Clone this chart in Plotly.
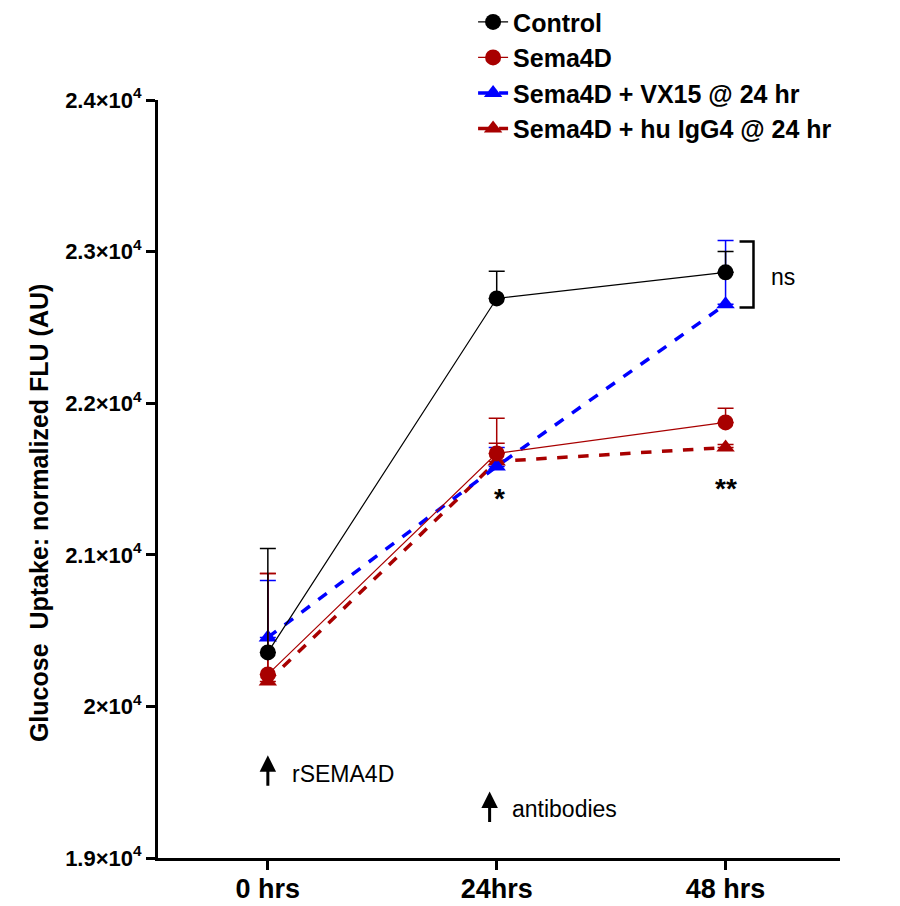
import plotly.graph_objects as go

categories = ["0 hrs", "24hrs", "48 hrs"]
control = [20356, 22691, 22863]
control_err = [686, 180, 138]
sema4d = [20211, 21669, 21873]
sema4d_err = [666, 231, 93]
vx15 = [20455, 21583, 22652]
vx15_err = [376, 125, 422]
igg4 = [20165, 21616, 21708]
igg4_err = [712, 119, 20]

ytick_vals = [19000, 20000, 21000, 22000, 23000, 24000]
ytick_text = ["1.9×10<sup>4</sup>", "2×10<sup>4</sup>", "2.1×10<sup>4</sup>",
              "2.2×10<sup>4</sup>", "2.3×10<sup>4</sup>", "2.4×10<sup>4</sup>"]

DARKRED = "#A80000"
BLUE = "#0000FF"
FONT = "Liberation Sans, Arial, sans-serif"

fig = go.Figure()

def add(name, y, err, color, symbol, dash, width):
    fig.add_trace(go.Scatter(
        x=categories, y=y, name=name, mode="lines+markers",
        line=dict(color=color, width=width, dash=dash),
        marker=dict(symbol=symbol, size=16, color=color),
        error_y=dict(type="data", array=err, arrayminus=[0] * len(err),
                     symmetric=False, color=color, thickness=1.5, width=8),
    ))

add("Sema4D + hu IgG4 @ 24 hr", igg4, igg4_err, DARKRED, "triangle-up", "dash", 3.5)
add("Sema4D + VX15 @ 24 hr", vx15, vx15_err, BLUE, "triangle-up", "dash", 3.5)
add("Sema4D", sema4d, sema4d_err, DARKRED, "circle", "solid", 1.2)
add("Control", control, control_err, "black", "circle", "solid", 1.2)

# bracket "ns"
fig.add_shape(type="path", xref="x", yref="y",
              path="M 2.061 23067 L 2.122 23067 L 2.122 22632 L 2.061 22632",
              line=dict(color="black", width=2.5))

annotations = [
    dict(x=2.19, y=22830, text="ns", showarrow=False, xanchor="left",
         font=dict(size=23, color="black")),
    dict(x=1.013, y=21370, text="<b>*</b>", showarrow=False,
         font=dict(size=28, color="black")),
    dict(x=2.004, y=21440, text="<b>**</b>", showarrow=False,
         font=dict(size=28, color="black")),
    # arrows
    dict(x=0, y=19677, ax=0, ay=32, text="", showarrow=True, arrowhead=2,
         arrowsize=1.1, arrowwidth=3, arrowcolor="black"),
    dict(x=0.095, y=19551, text="rSEMA4D", showarrow=False, xanchor="left",
         font=dict(size=23, color="black")),
    dict(x=0.969, y=19439, ax=0, ay=32, text="", showarrow=True, arrowhead=2,
         arrowsize=1.1, arrowwidth=3, arrowcolor="black"),
    dict(x=1.06, y=19320, text="antibodies", showarrow=False, xanchor="left",
         font=dict(size=23, color="black")),
    # y title
    dict(x=-0.198, y=0.455, xref="paper", yref="paper", textangle=-90,
         text="<b>Glucose  Uptake: normalized FLU (AU)</b>", showarrow=False,
         font=dict(size=25, color="black")),
]

fig.update_layout(
    width=892, height=898,
    margin=dict(l=150, r=60, t=92, b=48, autoexpand=False),
    plot_bgcolor="white", paper_bgcolor="white",
    font=dict(family=FONT, color="black"),
    showlegend=True,
    legend=dict(x=0.462, y=1.133, xanchor="left", yanchor="top",
                traceorder="reversed", bgcolor="rgba(0,0,0,0)",
                font=dict(size=25, family=FONT, color="black", weight="bold"),
                tracegroupgap=0, itemwidth=30),
    annotations=annotations,
    xaxis=dict(range=[-0.48, 2.5], showgrid=False, zeroline=False,
               showline=True, linecolor="black", linewidth=3,
               ticks="outside", ticklen=9, tickwidth=2.5, tickcolor="black",
               ticklabelstandoff=-4,
               tickfont=dict(size=27, family=FONT, weight="bold")),
    yaxis=dict(range=[19000, 24000], tickvals=ytick_vals, ticktext=ytick_text,
               showgrid=False, zeroline=False,
               showline=True, linecolor="black", linewidth=3,
               ticks="outside", ticklen=9, tickwidth=2.5, tickcolor="black",
               tickfont=dict(size=22, family=FONT, weight="bold")),
)

fig.write_html("out.html")
